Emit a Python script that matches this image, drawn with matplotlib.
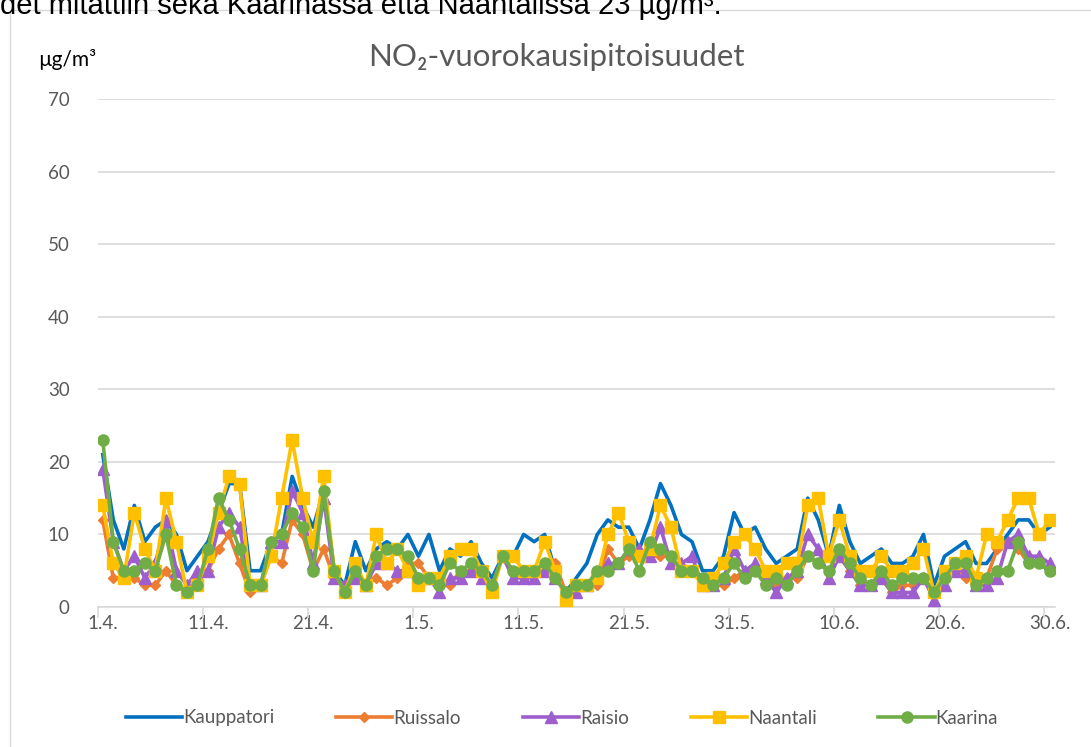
import matplotlib
matplotlib.use("Agg")
import matplotlib.pyplot as plt
from matplotlib.patches import Rectangle
import numpy as np

plt.rcParams['font.family'] = ['Lato', 'DejaVu Sans']

# -----------------------------------------------------------
# Data: daily NO2 means, 1.4. - 30.6. (ug/m3)
# -----------------------------------------------------------
tick_labels = ["1.4.", "11.4.", "21.4.", "1.5.", "11.5.", "21.5.", "31.5.", "10.6.", "20.6.", "30.6."]

kauppatori = [21, 12, 8, 14, 9, 11, 12, 10, 5, 7, 9, 13, 17, 17, 5,
              5, 9, 10, 18, 14, 11, 16, 5, 3, 9, 5, 8, 9, 8, 10,
              7, 10, 5, 8, 7, 9, 6, 4, 7, 7, 10, 9, 10, 5, 2,
              4, 6, 10, 12, 11, 11, 8, 12, 17, 14, 10, 9, 5, 5, 7,
              13, 10, 11, 8, 6, 7, 8, 15, 12, 7, 14, 9, 6, 7, 8,
              6, 6, 7, 10, 3, 7, 8, 9, 6, 6, 8, 10, 12, 12, 10, 11]

ruissalo = [12, 4, 4, 4, 3, 3, 5, 3, 2, 4, 5, 8, 10, 6, 2,
            3, 7, 6, 12, 10, 5, 8, 4, 3, 4, 3, 4, 3, 4, 6,
            6, 4, 3, 3, 5, 5, 5, 3, 7, 5, 5, 5, 5, 6, 2,
            3, 3, 3, 8, 6, 7, 7, 7, 7, 7, 5, 5, 4, 3, 3,
            4, 5, 5, 4, 3, 4, 4, 7, 6, 5, 7, 5, 3, 3, 4,
            2, 3, 3, 4, 2, 4, 6, 4, 4, 4, 8, 9, 8, 6, 6, 5]

raisio = [19, 9, 5, 7, 4, 6, 12, 5, 3, 5, 5, 11, 13, 11, 3,
          3, 9, 9, 16, 13, 6, 15, 4, 3, 4, 3, 6, 6, 5, 5,
          4, 4, 2, 4, 4, 5, 4, 3, 7, 4, 4, 4, 5, 4, 2,
          2, 3, 4, 6, 6, 8, 8, 7, 11, 6, 6, 7, 3, 3, 4,
          8, 5, 6, 4, 2, 4, 5, 10, 8, 4, 7, 5, 3, 3, 4,
          2, 2, 2, 4, 1, 3, 5, 5, 3, 3, 4, 9, 10, 7, 7, 6]

naantali = [14, 6, 4, 13, 8, 5, 15, 9, 2, 3, 7, 13, 18, 17, 3,
            3, 7, 15, 23, 15, 9, 18, 5, 2, 6, 3, 10, 6, 8, 5,
            3, 4, 4, 7, 8, 8, 5, 2, 7, 7, 5, 5, 9, 5, 1,
            3, 3, 4, 10, 13, 9, 7, 8, 14, 11, 5, 5, 3, 4, 6,
            9, 10, 8, 5, 5, 6, 6, 14, 15, 7, 12, 7, 5, 5, 7,
            5, 5, 6, 8, 2, 5, 6, 7, 4, 10, 9, 12, 15, 15, 10, 12]

kaarina = [23, 9, 5, 5, 6, 5, 10, 3, 2, 3, 8, 15, 12, 8, 3,
           3, 9, 10, 13, 11, 5, 16, 5, 2, 5, 3, 7, 8, 8, 7,
           4, 4, 3, 6, 5, 6, 5, 3, 7, 5, 5, 5, 6, 4, 2,
           3, 3, 5, 5, 6, 8, 5, 9, 8, 7, 5, 5, 4, 3, 4,
           6, 4, 5, 3, 4, 3, 5, 7, 6, 5, 8, 6, 4, 3, 5,
           3, 4, 4, 4, 2, 4, 6, 6, 3, 4, 5, 5, 9, 6, 6, 5]

days = np.arange(len(kauppatori))
grey_text = "#595959"
grid_col = "#d9d9d9"

# -----------------------------------------------------------
# Figure / frame
# -----------------------------------------------------------
fig = plt.figure(figsize=(10.91, 7.47), dpi=100)

# cut off line of the surrounding document text (top half is outside the crop)
fig.text(0.0, 1 - 14 / 747, "det mitattiin sekä Kaarinassa että Naantalissa 23 µg/m³.",
         fontsize=21, color="black", ha="left", va="baseline",
         family=["Liberation Sans", "DejaVu Sans"])

fig.patches.append(Rectangle((10 / 1091, -0.1), 1.2, 1 - 10 / 747 + 0.1,
                             transform=fig.transFigure, fill=False,
                             edgecolor=grid_col, lw=1))

ax = fig.add_axes([97.5 / 1091, 140 / 747, 957.5 / 1091, 508 / 747])

# -----------------------------------------------------------
# Series
# -----------------------------------------------------------
ax.plot(days, kauppatori, color="#0070C0", lw=2.6, label="Kauppatori", zorder=3)
ax.plot(days, ruissalo, color="#ED7D31", lw=2.6, marker="D", ms=5.5, label="Ruissalo", zorder=4)
ax.plot(days, raisio, color="#9E5ECE", lw=2.6, marker="^", ms=8, label="Raisio", zorder=5)
ax.plot(days, naantali, color="#FFC000", lw=2.6, marker="s", ms=8, label="Naantali", zorder=6)
ax.plot(days, kaarina, color="#70AD47", lw=2.6, marker="o", ms=8, label="Kaarina", zorder=7)

# -----------------------------------------------------------
# Axes styling
# -----------------------------------------------------------
ax.set_xlim(-0.5, len(days) - 0.5)
ax.set_ylim(0, 70)
ax.set_yticks(range(0, 71, 10))
ax.grid(axis="y", color=grid_col, lw=1.2)
ax.set_axisbelow(True)

ax.set_xticks(np.arange(0, len(days), 10))
ax.set_xticklabels(tick_labels)
ax.set_xticks(np.arange(-0.5, len(days), 10), minor=True)
ax.tick_params(axis="x", which="major", length=0, pad=6, labelsize=13.5, labelcolor=grey_text)
ax.tick_params(axis="x", which="minor", length=8, color=grid_col, width=1.2)
ax.tick_params(axis="y", length=0, pad=20, labelsize=13.5, labelcolor=grey_text)

for side in ["top", "right", "left"]:
    ax.spines[side].set_visible(False)
ax.spines["bottom"].set_color(grid_col)
ax.spines["bottom"].set_linewidth(1.2)

fig.text(556 / 1091, 1 - 57 / 747, "NO₂-vuorokausipitoisuudet", fontsize=22.5,
         color=grey_text, ha="center", va="center")
fig.text(38 / 1091, 1 - 60 / 747, "µg/m³", fontsize=15, color="black",
         ha="left", va="center")

fig.legend(loc="center", bbox_to_anchor=(562 / 1091, 1 - 718 / 747), ncol=5,
           frameon=False, fontsize=13.5, handlelength=3.0, handletextpad=0.05,
           columnspacing=3.3, labelcolor=grey_text)

fig.savefig("out.png", dpi=100)
